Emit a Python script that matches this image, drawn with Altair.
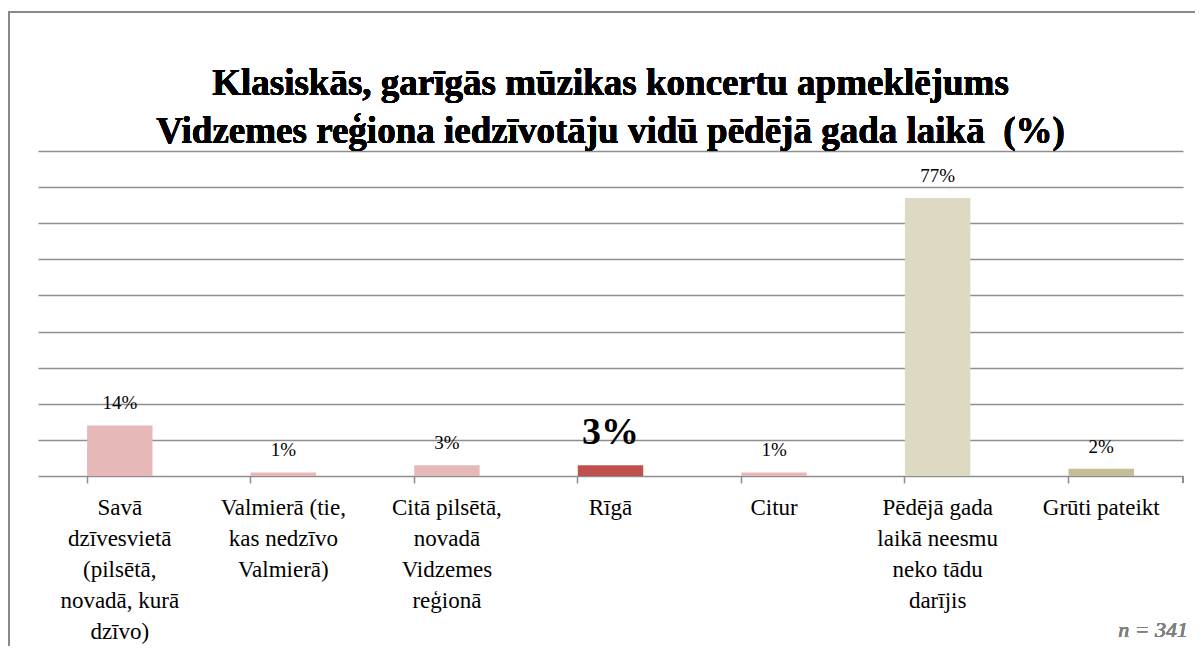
import altair as alt
import pandas as pd

categories = [
    "Savā\ndzīvesvietā\n(pilsētā,\nnovadā, kurā\ndzīvo)",
    "Valmierā (tie,\nkas nedzīvo\nValmierā)",
    "Citā pilsētā,\nnovadā\nVidzemes\nreģionā",
    "Rīgā",
    "Citur",
    "Pēdējā gada\nlaikā neesmu\nneko tādu\ndarījis",
    "Grūti pateikt",
]
values = [14, 1, 3, 3, 1, 77, 2]
colors = ["#E6B9B8", "#E6B9B8", "#E6B9B8", "#C0504D", "#E6B9B8", "#DDD9C3", "#C4BD97"]
highlight = "Rīgā"
grid_values = [10, 20, 30, 40, 50, 60, 70, 80, 90]
title_lines = [
    "Klasiskās, garīgās mūzikas koncertu apmeklējums",
    "Vidzemes reģiona iedzīvotāju vidū pēdējā gada laikā\u00a0 (%)",
]
note = "n = 341"

df = pd.DataFrame({"cat": categories, "value": values})

W, H = 1145, 325
FONT = "Liberation Serif"
GRID = "#8E8E8E"

x = alt.X(
    "cat:N",
    sort=None,
    scale=alt.Scale(paddingInner=0.6, paddingOuter=0.3),
    axis=alt.Axis(
        title=None,
        labelAngle=0,
        labelFont=FONT,
        labelFontSize=23,
        labelLineHeight=31,
        labelColor="black",
        labelPadding=13,
        labelLimit=300,
        labelExpr="split(datum.label, '\\n')",
        bandPosition=0,
        tickSize=7,
        tickColor=GRID,
        tickWidth=1.5,
        domainColor=GRID,
        domainWidth=1.5,
        grid=False,
    ),
)
y = alt.Y(
    "value:Q",
    scale=alt.Scale(domain=[0, 90], nice=False),
    axis=alt.Axis(
        title=None,
        labels=False,
        ticks=False,
        domain=False,
        values=grid_values,
        grid=True,
        gridColor=GRID,
        gridWidth=1.5,
    ),
)

base = alt.Chart(df)

border = base.mark_rect(fillOpacity=0, stroke="#8A8A8A", strokeWidth=1.5).encode(
    x=alt.value(-29), x2=alt.value(W + 60), y=alt.value(-139), y2=alt.value(H + 400)
)

bars = base.mark_bar().encode(
    x=x,
    y=y,
    color=alt.Color("cat:N", sort=None, scale=alt.Scale(domain=categories, range=colors), legend=None),
)

labels = base.transform_filter(alt.datum.cat != highlight).transform_calculate(
    lab=alt.expr.format(alt.datum.value, "d") + "%"
).mark_text(font=FONT, fontSize=19, color="black", baseline="alphabetic", dy=-16).encode(
    x=alt.X("cat:N", sort=None), y="value:Q", text="lab:N"
)

big_label = base.transform_filter(alt.datum.cat == highlight).transform_calculate(
    lab=alt.expr.format(alt.datum.value, "d") + "%"
).mark_text(font=FONT, fontSize=38, fontWeight="bold", color="black", baseline="alphabetic", dy=-21).encode(
    x=alt.X("cat:N", sort=None), y="value:Q", text="lab:N"
)

end_tick = base.mark_rule(color=GRID, strokeWidth=1.5).encode(
    x=alt.value(W), y=alt.value(H), y2=alt.value(H + 7)
)

n_text = base.mark_text(
    text=note, font=FONT, fontSize=22, fontStyle="italic", color="#7F7F7F", align="right", baseline="alphabetic"
).encode(x=alt.value(W + 5), y=alt.value(H + 161))

title_text = base.mark_text(
    text=title_lines, font=FONT, fontSize=37, fontWeight="bold", color="black",
    align="center", baseline="alphabetic", lineHeight=48,
).encode(x=alt.value(W / 2), y=alt.value(-56))

chart = alt.layer(border, bars, labels, big_label, end_tick, n_text, title_text).properties(
    width=W,
    height=H,
    autosize=alt.AutoSizeParams(type="none"),
    padding={"left": 30, "top": 143, "right": 12, "bottom": 170},
).configure_view(stroke=None)

chart.save("out.html", embed_options={"renderer": "svg", "actions": False})
